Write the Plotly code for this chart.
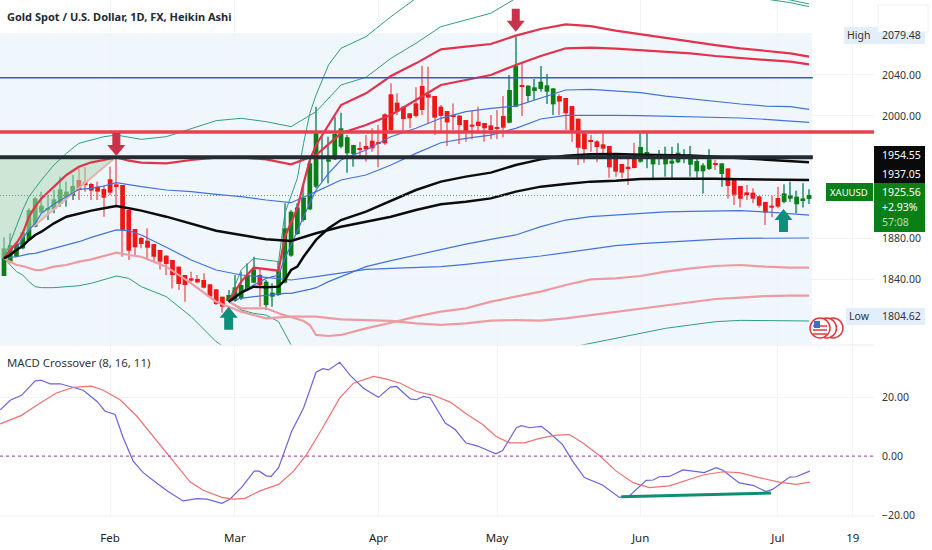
import plotly.graph_objects as go
from plotly.subplots import make_subplots

# Heikin Ashi candles, one value per bar
opens = [1843.2,1857.3,1862.1,1870.3,1878.5,1891.5,1905.5,1908.5,1908.8,1913.7,1920.2,1921.9,1937.2,1935.2,1933.3,1930.7,1928.4,1937.9,1932.9,1932.3,
         1907.8,1889.2,1880.4,1877.8,1874.5,1868.7,1863.1,1858.9,1852.4,1844.2,1840.9,1840.3,1839.3,1835.1,1830.2,1823.0,1818.8,1818.8,1821.4,1830.2,
         1836.7,1844.2,1814.8,1823.0,1824.6,1836.7,1863.1,1884.3,1898.0,1908.5,1930.7,1958.4,1955.1,1957.4,1969.8,1963.3,1962.6,1967.9,1970.5,1975.7,
         1973.7,2001.5,2021.1,2012.9,2009.0,2002.5,2012.2,2029.2,2021.1,2019.4,2009.0,2004.7,2000.2,2000.2,1995.9,1991.4,1994.3,1993.0,1990.7,1988.8,
         1999.8,1993.3,2009.0,2029.9,2019.4,2024.3,2026.3,2023.7,2011.3,2019.4,2017.5,2009.6,1997.2,1982.9,1975.7,1975.0,1972.1,1970.5,1961.7,1952.9,
         1950.2,1957.8,1955.1,1963.0,1952.5,1958.4,1952.5,1953.2,1954.5,1958.4,1952.2,1945.7,1945.7,1948.0,1953.5,1943.1,1948.6,1937.9,1931.3,1925.1,
         1924.8,1921.2,1915.7,1912.1,1919.6,1915.7,1918.9,1913.4,1917.3,1918.6]
closes = [1870.3,1873.6,1875.2,1886.0,1907.8,1919.2,1912.1,1909.5,1918.3,1928.1,1925.8,1931.3,1927.4,1932.3,1926.8,1925.8,1919.9,1924.8,1931.3,1888.3,
          1868.0,1871.3,1874.5,1870.9,1862.1,1857.3,1855.0,1844.2,1835.4,1834.4,1838.7,1837.0,1831.8,1823.0,1815.8,1813.2,1824.6,1832.1,1834.4,1844.2,
          1849.7,1834.4,1837.7,1826.9,1848.4,1889.9,1906.2,1910.4,1919.9,1953.5,1982.9,1959.1,1957.4,1982.2,1987.8,1979.0,1971.5,1966.9,1967.2,1968.2,
          1972.8,1973.1,1986.1,2004.1,1996.9,1997.6,1999.8,2005.7,2017.8,1998.2,2000.0,1993.6,1999.2,1991.0,1985.2,1989.4,1990.1,1987.8,1986.1,1987.8,
          1988.4,2025.3,2049.1,2029.2,2029.5,2027.9,2033.4,2029.9,2026.9,2013.9,2002.5,1985.5,1968.8,1967.5,1974.4,1969.5,1967.9,1949.6,1945.4,1944.4,
          1948.9,1948.9,1969.5,1964.0,1958.4,1959.1,1958.4,1956.1,1963.9,1959.4,1958.1,1955.8,1951.6,1957.4,1952.5,1953.5,1931.3,1922.8,1918.9,1923.2,
          1918.9,1912.1,1905.2,1910.1,1911.1,1924.1,1922.2,1920.9,1919.2,1922.5]
highs = [1881.1,1885.0,1876.8,1888.3,1909.5,1920.9,1925.8,1922.5,1927.4,1940.5,1935.6,1942.1,1948.6,1950.2,1934.6,1935.6,1932.3,1950.2,1960.0,1932.3,
         1907.8,1889.2,1881.7,1889.9,1874.5,1868.7,1863.8,1858.9,1852.4,1844.2,1847.5,1844.2,1845.8,1835.1,1830.2,1823.0,1829.5,1844.2,1847.5,1855.6,
         1862.1,1850.7,1839.3,1836.1,1857.3,1914.4,1907.8,1914.4,1932.3,1960.0,2009.0,1979.6,1979.6,1999.2,2003.1,1981.2,1971.5,1974.7,1981.2,1987.8,
         1991.0,2002.5,2031.8,2022.0,2009.0,2002.5,2027.9,2049.1,2048.1,2019.4,2010.6,2004.7,2012.2,2000.8,1995.9,2004.7,2009.0,1993.0,2000.8,2005.7,
         2019.4,2040.0,2077.5,2051.4,2029.9,2036.1,2048.8,2041.0,2026.9,2021.1,2017.5,2009.6,1997.2,1982.9,1981.2,1976.4,1982.9,1970.5,1961.7,1952.9,
         1958.4,1973.7,1982.9,1982.9,1961.7,1966.6,1969.8,1969.8,1973.1,1967.2,1970.5,1960.0,1953.5,1967.2,1956.8,1953.5,1948.6,1937.9,1931.3,1932.3,
         1929.0,1921.2,1915.7,1921.9,1930.7,1933.0,1935.6,1926.8,1933.9,1928.1]
lows = [1843.2,1855.6,1861.5,1869.3,1877.8,1890.9,1904.6,1898.0,1904.6,1911.1,1911.1,1917.6,1917.6,1925.8,1917.6,1917.6,1901.3,1922.5,1912.7,1862.1,
        1858.9,1863.8,1870.3,1858.9,1857.3,1849.7,1844.2,1831.1,1829.5,1818.1,1837.7,1836.1,1831.1,1821.4,1814.8,1807.3,1818.1,1818.1,1819.7,1829.5,
        1836.1,1813.2,1809.9,1813.2,1823.6,1836.1,1862.1,1883.4,1896.4,1907.8,1929.0,1935.6,1933.9,1956.8,1968.2,1944.4,1950.2,1960.0,1955.1,1964.9,
        1949.6,1971.5,1982.9,2000.8,1985.5,1987.8,1998.5,2000.8,1992.7,1981.2,1984.5,1970.5,1986.1,1972.4,1974.7,1977.0,1982.9,1974.7,1977.0,1977.0,
        1979.0,1992.7,2008.3,1999.8,2013.9,2015.5,2023.7,2011.6,2000.8,2000.8,1986.1,1974.7,1951.9,1954.2,1964.9,1954.5,1960.0,1939.5,1940.5,1938.8,
        1932.3,1948.6,1954.2,1948.6,1938.8,1951.9,1940.5,1938.8,1953.5,1953.5,1940.5,1939.5,1924.1,1947.0,1947.0,1930.7,1919.2,1912.7,1910.4,1917.6,
        1914.4,1910.4,1893.1,1900.7,1909.5,1914.4,1916.0,1904.6,1910.4,1913.7]

# first anchored band set (from the January bar)
bars_a = [0,1,2,3,4,5,6,8,10,12,14,16,18,20,22,26,30,34,38,42,46,50,54,58,62,66,70,74,78,82,86,90,94,98,102,106,110,114,118,122,126,129]
a_mid = [1860.5,1863.8,1868.7,1872.6,1878.5,1883.4,1886.6,1894.8,1901.3,1904.6,1907.2,1909.5,1911.7,1909.5,1907.2,1901.3,1894.1,1887.6,1883.4,1879.1,1877.5,1885.0,1891.5,1896.4,1901.3,1907.8,1913.4,1916.0,1919.2,1925.8,1930.7,1933.3,1935.6,1936.5,1938.2,1938.5,1938.8,1938.5,1937.9,1937.5,1937.5,1937.2]
a_up1 = [1860.5,1864.8,1870.3,1880.1,1888.3,1894.8,1904.6,1913.7,1920.9,1928.1,1929.0,1931.3,1934.6,1933.0,1930.7,1927.4,1925.8,1923.2,1920.9,1917.6,1915.0,1925.8,1937.2,1942.1,1951.9,1963.3,1973.7,1978.0,1981.2,1987.8,1996.9,2000.5,2000.8,2000.5,2000.2,1999.8,1999.2,1998.5,1997.9,1996.6,1995.3,1993.6]
a_up2 = [1860.5,1868.7,1875.2,1885.0,1901.3,1911.1,1919.2,1930.7,1942.1,1950.2,1954.5,1956.8,1959.4,1956.1,1954.2,1953.5,1956.8,1959.1,1959.4,1957.4,1952.5,1961.7,1982.9,1991.0,2000.8,2015.5,2030.2,2035.1,2040.0,2049.8,2058.6,2066.1,2066.7,2065.8,2064.5,2062.8,2061.2,2058.6,2056.3,2054.7,2053.0,2050.4]
a_up3 = [1860.5,1876.8,1891.5,1907.8,1920.9,1929.0,1937.2,1951.9,1963.3,1973.1,1976.4,1979.6,1981.2,1979.0,1977.0,1979.6,1987.8,1995.3,1997.6,1994.3,1989.4,2004.1,2030.2,2037.7,2056.3,2071.0,2087.3,2093.8,2100.4,2115.0,2123.2,2126.5,2126.5,2124.8,2123.2,2121.6,2119.9,2118.3,2116.7,2114.4,2110.8,2106.9]
a_dn1 = [1860.5,1861.2,1862.1,1863.4,1864.8,1865.4,1867.0,1870.3,1873.6,1876.8,1881.1,1885.0,1888.3,1887.6,1883.4,1871.3,1858.9,1849.1,1844.2,1841.9,1839.3,1842.6,1845.8,1849.7,1850.7,1851.7,1852.4,1854.6,1857.3,1859.5,1862.8,1866.1,1869.3,1872.9,1874.9,1876.5,1877.8,1879.1,1880.1,1880.4,1880.4,1880.4]
a_dn2 = [1860.5,1857.3,1854.0,1853.0,1850.7,1849.1,1849.1,1852.4,1854.0,1857.3,1859.5,1862.8,1866.1,1863.8,1862.1,1852.4,1836.1,1818.1,1808.3,1801.8,1803.4,1803.4,1800.8,1800.1,1799.2,1796.9,1795.3,1796.9,1799.5,1800.1,1799.5,1801.8,1805.0,1808.3,1811.6,1814.8,1818.1,1820.7,1822.0,1823.6,1824.0,1824.0]
a_dn3 = [1860.5,1854.0,1847.5,1844.2,1837.7,1832.8,1831.8,1831.8,1832.8,1833.7,1836.1,1839.3,1843.2,1840.9,1832.8,1823.0,1803.4,1778.9,1762.6]

# second anchored band set (from the March low)
bars_b = [36,38,40,42,44,45,46,47,48,49,50,52,54,58,62,66,70,74,78,82,86,90,94,98,102,106,110,114,118,122,126,129]
b_mid = [1818.1,1826.9,1832.8,1832.1,1832.8,1839.3,1849.1,1852.4,1862.1,1870.3,1878.5,1889.9,1898.0,1906.2,1916.9,1927.4,1935.6,1940.5,1944.4,1951.9,1957.4,1961.0,1962.3,1962.7,1962.0,1961.7,1961.3,1960.0,1958.7,1957.4,1955.5,1954.5]
b_up1 = [1818.1,1827.9,1834.4,1840.9,1844.2,1860.5,1873.6,1886.6,1901.3,1914.4,1927.4,1943.7,1956.8,1966.6,1979.6,1987.8,1997.6,2004.1,2007.3,2009.6,2017.1,2025.3,2025.9,2024.6,2022.7,2019.4,2016.8,2013.9,2011.6,2009.6,2009.0,2006.4]
b_up2 = [1818.1,1837.7,1851.4,1849.7,1848.4,1881.7,1896.4,1909.5,1933.9,1956.8,1971.5,1991.0,2010.6,2022.0,2039.0,2051.4,2065.1,2067.7,2070.3,2078.5,2085.0,2089.6,2087.9,2083.4,2079.8,2075.9,2072.6,2069.3,2066.1,2063.8,2061.2,2057.9]
b_up3 = [1818.1,1849.1,1860.5,1858.9,1857.3,1904.6,1920.9,1938.8,1973.1,2002.5,2020.4,2049.8,2066.1,2077.5,2097.1,2115.0,2133.0,2142.8,2149.3,2152.6,2152.6,2149.3,2146.0,2141.1,2136.2,2131.3,2128.1,2123.2,2119.9,2116.7,2113.4,2109.5]
b_dn1 = [1818.1,1821.4,1823.0,1824.6,1825.6,1826.3,1826.3,1827.9,1828.9,1830.2,1831.8,1837.7,1842.6,1852.4,1858.2,1863.8,1868.7,1874.5,1879.1,1883.4,1891.5,1898.0,1901.3,1902.9,1904.6,1905.9,1906.5,1907.2,1907.2,1905.9,1904.2,1902.9]
b_dn2 = [1818.1,1811.6,1811.6,1811.6,1806.7,1805.0,1803.4,1801.1,1799.2,1795.3,1785.5,1784.5,1785.5,1792.0,1797.5,1803.4,1808.3,1811.6,1818.1,1823.0,1827.9,1834.4,1839.9,1840.9,1843.2,1847.5,1850.7,1853.0,1854.0,1852.4,1851.4,1851.4]
b_dn3 = [1818.1,1810.0,1806.7,1805.0,1798.5,1787.1,1775.7,1767.5,1757.7,1751.2,1744.7,1741.4,1738.2,1739.8,1741.4,1746.3,1751.2,1754.5,1757.7,1762.6,1767.5,1772.4,1777.3,1782.2,1787.1,1792.0,1795.3,1798.5,1799.8,1799.5,1799.2,1799.2]

# horizontal levels
level_blue = 2037.4
level_red = 1984.2
level_black = 1959.4
last_price = 1922

# hand drawn triangle and arrows
wedge_bars = [-0.65, 17.5, 4.7, 0, -0.65]
wedge_prices = [1957.4, 1957.4, 1891.5, 1860.5, 1860.5]
arrow_down = [(18, 1960.7), (82, 2082.4)]
arrow_up = [(36, 1813.2), (124.9, 1908.8)]

# MACD panel
macd_bars = [-0.6,1.0,2.8,5.0,6.0,7.4,9.0,10.8,12.7,14.9,16.2,17.8,19.1,20.7,22.3,24.5,26.3,28.7,30.9,32.5,34.9,36.2,38.1,40.1,40.9,42.0,42.8,44.0,46.1,48.0,50.0,51.1,52.0,53.8,55.4,57.6,60.0,61.9,62.9,65.1,66.1,67.2,68.3,70.7,72.3,74.0,75.9,78.8,79.9,82.1,82.9,84.2,86.1,87.4,89.5,91.1,93.0,95.9,98.6,100.2,102.9,104.0,105.0,106.6,108.8,110.4,112.2,114.1,115.2,117.8,120.0,122.1,123.2,125.9,126.9,129.1]
macd_line = [15.7,18.9,20.6,25.5,25.7,24.5,24.5,23.4,22.3,18.5,15.2,14.1,6.2,-1.7,-5.6,-9.2,-12.0,-15.2,-14.4,-14.6,-16.0,-14.6,-10.5,-5.1,-5.1,-6.7,-6.9,-3.9,8.4,16.3,28.4,29.6,29.2,31.8,27.5,23.0,19.9,23.4,23.6,19.4,19.1,20.2,19.7,11.2,9.0,4.5,3.4,0.8,1.9,9.6,10.3,9.6,10.1,7.9,3.9,-1.7,-7.3,-9.8,-14.0,-13.5,-8.2,-8.1,-7.0,-6.9,-4.7,-5.1,-5.6,-3.9,-4.8,-9.1,-9.9,-12.0,-11.2,-7.1,-7.0,-5.1]
signal_bars = [-0.6,2.8,5.8,8.4,11.1,14.0,15.9,18.6,21.3,23.9,26.6,29.8,31.9,34.9,36.8,38.6,41.0,44.0,46.4,48.5,50.9,53.8,56.0,59.2,61.3,63.5,66.1,68.8,71.5,74.0,76.7,78.8,81.0,83.4,85.8,88.5,90.6,92.7,95.4,98.1,100.8,103.4,106.6,109.3,112.0,115.2,117.8,121.0,124.2,126.9,129.1]
signal_line = [10.9,13.8,18.0,21.4,23.3,23.7,22.3,19.1,13.5,6.7,-0.6,-8.7,-11.6,-14.0,-14.6,-14.3,-11.8,-9.6,-5.1,0.6,9.0,19.7,24.7,27.0,26.1,24.7,21.9,20.6,18.3,14.4,10.7,6.7,4.5,4.5,6.0,7.1,7.3,4.5,0.2,-5.1,-9.0,-10.7,-10.1,-8.2,-6.4,-5.3,-5.6,-7.3,-8.8,-9.6,-8.8]
trend_bars = [98.9, 122.9]
trend_values = [-13.8, -12.5]

# axes
month_bars = [17, 37, 60, 79, 102, 124, 136]
month_labels = ["Feb", "Mar", "Apr", "May", "Jun", "Jul", "19"]
price_ticks = [2040, 2000, 1880, 1840]
macd_ticks = [20, 0, -20]

FONT = "Noto Sans"
GREEN = "#0b7f16"
RED = "#ee1616"
W, H, PLOT_W, PLOT_H = 932, 550, 874, 516
X_RANGE = [-0.64, 139.4]
LAST_BAR = 129.6


def px(x):
    return x / PLOT_W


def py(y):
    return (PLOT_H - y) / PLOT_H


fig = make_subplots(rows=2, cols=1, shared_xaxes=True, vertical_spacing=0.002, row_heights=[345, 170])

bars = list(range(len(opens)))
is_up = [c >= o for o, c in zip(opens, closes)]

# wicks and bodies are bars so that the bands stay on top of them
fig.add_trace(go.Bar(x=bars, base=lows, y=[h - l for h, l in zip(highs, lows)], width=0.2,
                     marker=dict(color=["#5aa58f" if u else "#ec8b92" for u in is_up], line_width=0)), row=1, col=1)
fig.add_trace(go.Bar(x=bars, base=[min(o, c) for o, c in zip(opens, closes)],
                     y=[max(abs(c - o), 0.9) for o, c in zip(opens, closes)], width=0.76,
                     marker=dict(color=[GREEN if u else RED for u in is_up], line_width=0)), row=1, col=1)

fig.add_trace(go.Scatter(x=wedge_bars, y=wedge_prices, fill="toself", mode="none",
                         fillcolor="rgba(176,216,180,0.55)"), row=1, col=1)
fig.add_trace(go.Scatter(x=wedge_bars[1:3], y=[1957.4, 1891.5], mode="lines",
                         line=dict(color="#e8b0ae", width=2)), row=1, col=1)

bands = [
    (bars_a, a_up3, "#2f9e80", 1), (bars_b, b_up3, "#2f9e80", 1),
    (bars_a[:len(a_dn3)], a_dn3, "#2f9e80", 1), (bars_b, b_dn3, "#2f9e80", 1),
    (bars_a, a_up1, "#4472dc", 1.2), (bars_b, b_up1, "#4472dc", 1.2),
    (bars_a, a_dn1, "#4472dc", 1.2), (bars_b, b_dn1, "#4472dc", 1.2),
    (bars_a, a_dn2, "#ee9aa0", 2.2), (bars_b, b_dn2, "#ee9aa0", 2.2),
    (bars_a, a_up2, "#e2324c", 2.2), (bars_b, b_up2, "#e2324c", 2.2),
    (bars_a, a_mid, "#0c0c0c", 2.5), (bars_b, b_mid, "#0c0c0c", 2.5),
]
for xs, ys, color, width in bands:
    fig.add_trace(go.Scatter(x=xs, y=ys, mode="lines", line=dict(color=color, width=width)), row=1, col=1)

fig.add_trace(go.Scatter(x=[X_RANGE[0], 126], y=[last_price, last_price], mode="lines",
                         line=dict(color="#5f9e6a", width=1, dash="1px,2px")), row=1, col=1)
fig.add_trace(go.Scatter(x=[X_RANGE[0], LAST_BAR], y=[level_blue, level_blue], mode="lines",
                         line=dict(color="#2e5fc0", width=1.5)), row=1, col=1)
fig.add_trace(go.Scatter(x=[X_RANGE[0], LAST_BAR], y=[level_black, level_black], mode="lines",
                         line=dict(color="#232b33", width=4)), row=1, col=1)
fig.add_trace(go.Scatter(x=X_RANGE, y=[level_red, level_red], mode="lines",
                         line=dict(color="#e8404f", width=3.5)), row=1, col=1)

fig.add_trace(go.Scatter(x=macd_bars, y=macd_line, mode="lines", line=dict(color="#6a62e0", width=1.2)), row=2, col=1)
fig.add_trace(go.Scatter(x=signal_bars, y=signal_line, mode="lines", line=dict(color="#f07070", width=1.2)), row=2, col=1)
fig.add_trace(go.Scatter(x=X_RANGE, y=[0, 0], mode="lines",
                         line=dict(color="#a0389c", width=1, dash="3px,3px")), row=2, col=1)
fig.add_trace(go.Scatter(x=trend_bars, y=trend_values, mode="lines", line=dict(color="#0f8f72", width=3)), row=2, col=1)

shapes = [
    # pale blue pane behind the candles
    dict(type="rect", xref="paper", yref="paper", x0=0, x1=px(812), y0=py(33), y1=py(344),
         fillcolor="#f0f7fc", line_width=0, layer="below"),
    dict(type="line", xref="paper", yref="paper", x0=0, x1=1, y0=py(345), y1=py(345), line=dict(color="#e6e9ef", width=1)),
    dict(type="line", xref="paper", yref="paper", x0=0, x1=1, y0=0, y1=0, line=dict(color="#eceef3", width=1)),
]

# arrows are fixed in pixels and anchored to a bar and a price
for bar, price in arrow_down:
    shapes.append(dict(type="path", xref="x", yref="y", xsizemode="pixel", ysizemode="pixel", xanchor=bar, yanchor=price,
                       path="M 0 0 L -9 11 L -4 11 L -4 23 L 4 23 L 4 11 L 9 11 Z", fillcolor="#c8324a", line_width=0))
for bar, price in arrow_up:
    shapes.append(dict(type="path", xref="x", yref="y", xsizemode="pixel", ysizemode="pixel", xanchor=bar, yanchor=price,
                       path="M 0 0 L -9 -11 L -4.5 -11 L -4.5 -23 L 4.5 -23 L 4.5 -11 L 9 -11 Z", fillcolor="#0e8f7c", line_width=0))


def box(x0, x1, y0, y1, color, line=None):
    shapes.append(dict(type="rect", xref="paper", yref="paper", x0=px(x0), x1=px(x1), y0=py(y1), y1=py(y0),
                       fillcolor=color, line=dict(color=line or color, width=1 if line else 0)))


box(844, 925, 27, 44, "#e3eefb")
box(878, 928, 5, 32, "#ffffff", "#eef0f3")
box(846, 925, 308, 325, "#e3eefb")
box(874, 925, 146, 183, "#0a0a0a")
box(826, 873, 183, 201, GREEN)
box(874, 925, 183, 232, GREEN)

# small flags next to the low label
for cx in [833, 826.5, 820]:
    shapes.append(dict(type="circle", xref="paper", yref="paper", x0=px(cx - 10), x1=px(cx + 10), y0=py(338), y1=py(318),
                       fillcolor="#ffffff", line=dict(color="#e0383e", width=1.5)))
for y in [326, 330, 334]:
    shapes.append(dict(type="line", xref="paper", yref="paper", x0=px(813), x1=px(827), y0=py(y), y1=py(y),
                       line=dict(color="#e0383e", width=1.5)))
box(814, 820, 321, 328, "#3f6fc0")

annotations = []


def label(x, y, text, color="#333333", size=10.5, anchor="left"):
    # annotations carry about 2px of padding on the left
    annotations.append(dict(x=px(x - 2), y=py(y), xref="paper", yref="paper", text=text, showarrow=False,
                            xanchor=anchor, yanchor="middle", font=dict(family=FONT, size=size, color=color)))


label(7, 17, "<b>Gold Spot / U.S. Dollar, 1D, FX, Heikin Ashi</b>", "#222b33", 11)
label(7, 362, "MACD Crossover (8, 16, 11)", "#333333", 11.4)
label(847, 35, "High")
label(882, 35, "2079.48")
label(849, 316, "Low")
label(882, 316, "1804.62")
label(882, 155, "1954.55", "#ffffff")
label(882, 174, "1937.05", "#ffffff")
label(830, 192, "XAUUSD", "#ffffff", 9.5)
label(882, 192, "1925.56", "#ffffff")
label(882, 207, "+2.93%", "#ffffff")
label(882, 222, "57:08", "#b6e0b6")

fig.update_layout(
    width=W, height=H,
    margin=dict(l=0, r=W - PLOT_W, t=0, b=H - PLOT_H),
    autosize=False,
    paper_bgcolor="white", plot_bgcolor="white",
    showlegend=False, hovermode=False, barmode="overlay",
    shapes=shapes, annotations=annotations,
    font=dict(family=FONT, size=11, color="#333333"),
)
fig.update_xaxes(range=X_RANGE, tickvals=month_bars, ticktext=month_labels, showgrid=True, gridcolor="#f1f3f8",
                 zeroline=False, showline=False, ticks="outside", ticklen=11, tickcolor="rgba(0,0,0,0)",
                 tickfont=dict(family=FONT, size=11.5, color="#222222"))
fig.update_yaxes(side="right", showgrid=True, gridcolor="#f1f3f8", zeroline=False, showline=False,
                 ticks="outside", ticklen=5, tickcolor="rgba(0,0,0,0)", tickfont=dict(family=FONT, size=10.5, color="#333333"))
fig.update_yaxes(range=[1775.7, 2113.4], tickvals=price_ticks, ticktext=[f"{t:.2f}" for t in price_ticks], row=1, col=1)
fig.update_yaxes(range=[-20.3, 37.3], tickvals=macd_ticks, ticktext=["20.00", "0.00", "\u221220.00"], row=2, col=1)

# the browser's default body margin would push the fixed size figure out of the window
fig.write_html("out.html", config={"displayModeBar": False}, post_script="document.body.style.margin = '0';")
